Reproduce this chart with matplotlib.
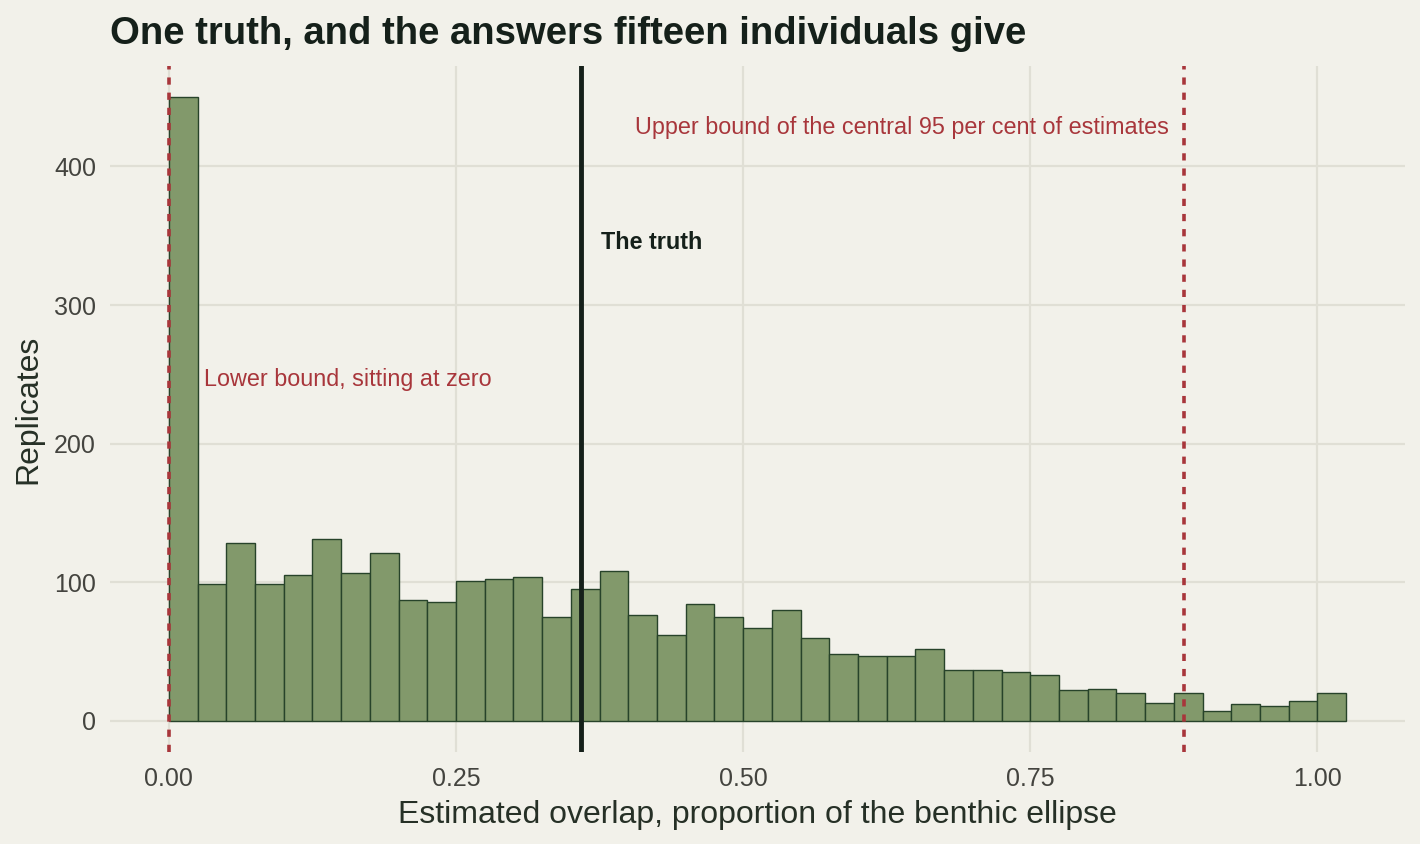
import numpy as np
import matplotlib
matplotlib.use("Agg")
import matplotlib.pyplot as plt

# histogram bins (width 0.025) and counts
bin_edges = np.round(np.arange(0, 1.0251, 0.025), 4)
counts = [450, 99, 128, 99, 105, 131, 107, 121, 87, 86,
          101, 102, 104, 75, 95, 108, 76, 62, 84, 75,
          67, 80, 60, 48, 47, 47, 52, 37, 37, 35,
          33, 22, 23, 20, 13, 20, 7, 12, 11, 14, 20]
truth = 0.3585
lower_bound = 0.0
upper_bound = 0.8835

bg = "#F2F1EA"
grid_col = "#E0DFD5"
fill_col = "#82996B"
edge_col = "#27432A"
red = "#A8363B"
ink = "#15201A"

plt.rcParams['font.family'] = ['Liberation Sans', 'DejaVu Sans']

fig = plt.figure(figsize=(14.2, 8.44), dpi=100, facecolor=bg)
ax = fig.add_axes([110 / 1420, 1 - 752 / 844, 1295 / 1420, 686 / 844])
ax.set_facecolor(bg)

lefts = bin_edges[:-1]
ax.bar(lefts, counts, width=0.025, align='edge', color=fill_col,
       edgecolor=edge_col, linewidth=1.0, zorder=3)

ax.axvline(truth, color=ink, lw=3.5, zorder=4)
ax.axvline(lower_bound, color=red, lw=2.6, ls=(0, (2, 2.2)), zorder=5)
ax.axvline(upper_bound, color=red, lw=2.6, ls=(0, (2, 2.2)), zorder=5)

ax.text(0.031, 246.5, "Lower bound, sitting at zero", color=red, fontsize=16.8,
        ha='left', va='center', zorder=6)
ax.text(0.8705, 428, "Upper bound of the central 95 per cent of estimates",
        color=red, fontsize=16.8, ha='right', va='center', zorder=6)
ax.text(0.376, 345, "The truth", color=ink, fontsize=16.8, fontweight='bold',
        ha='left', va='center', zorder=6)

ax.set_xlim(-0.05125, 1.07625)
ax.set_ylim(-22.5, 472.5)
ax.set_xticks([0, 0.25, 0.5, 0.75, 1.0])
ax.set_xticklabels(["0.00", "0.25", "0.50", "0.75", "1.00"])
ax.set_yticks([0, 100, 200, 300, 400])
ax.grid(True, color=grid_col, lw=1.6, zorder=0)
ax.set_axisbelow(True)
for s in ax.spines.values():
    s.set_visible(False)
ax.tick_params(length=0, labelsize=18, colors="#44443F")
ax.tick_params(axis='x', pad=10.5)
ax.tick_params(axis='y', pad=10)

ax.set_xlabel("Estimated overlap, proportion of the benthic ellipse",
              fontsize=23, color="#263026", labelpad=7)
ax.set_ylabel("Replicates", fontsize=23, color="#263026", labelpad=8)

fig.text(110 / 1420, 1 - 34 / 844, "One truth, and the answers fifteen individuals give",
         fontsize=27.5, fontweight='bold', color=ink, ha='left', va='center')

fig.savefig("out.png", dpi=100, facecolor=bg)
